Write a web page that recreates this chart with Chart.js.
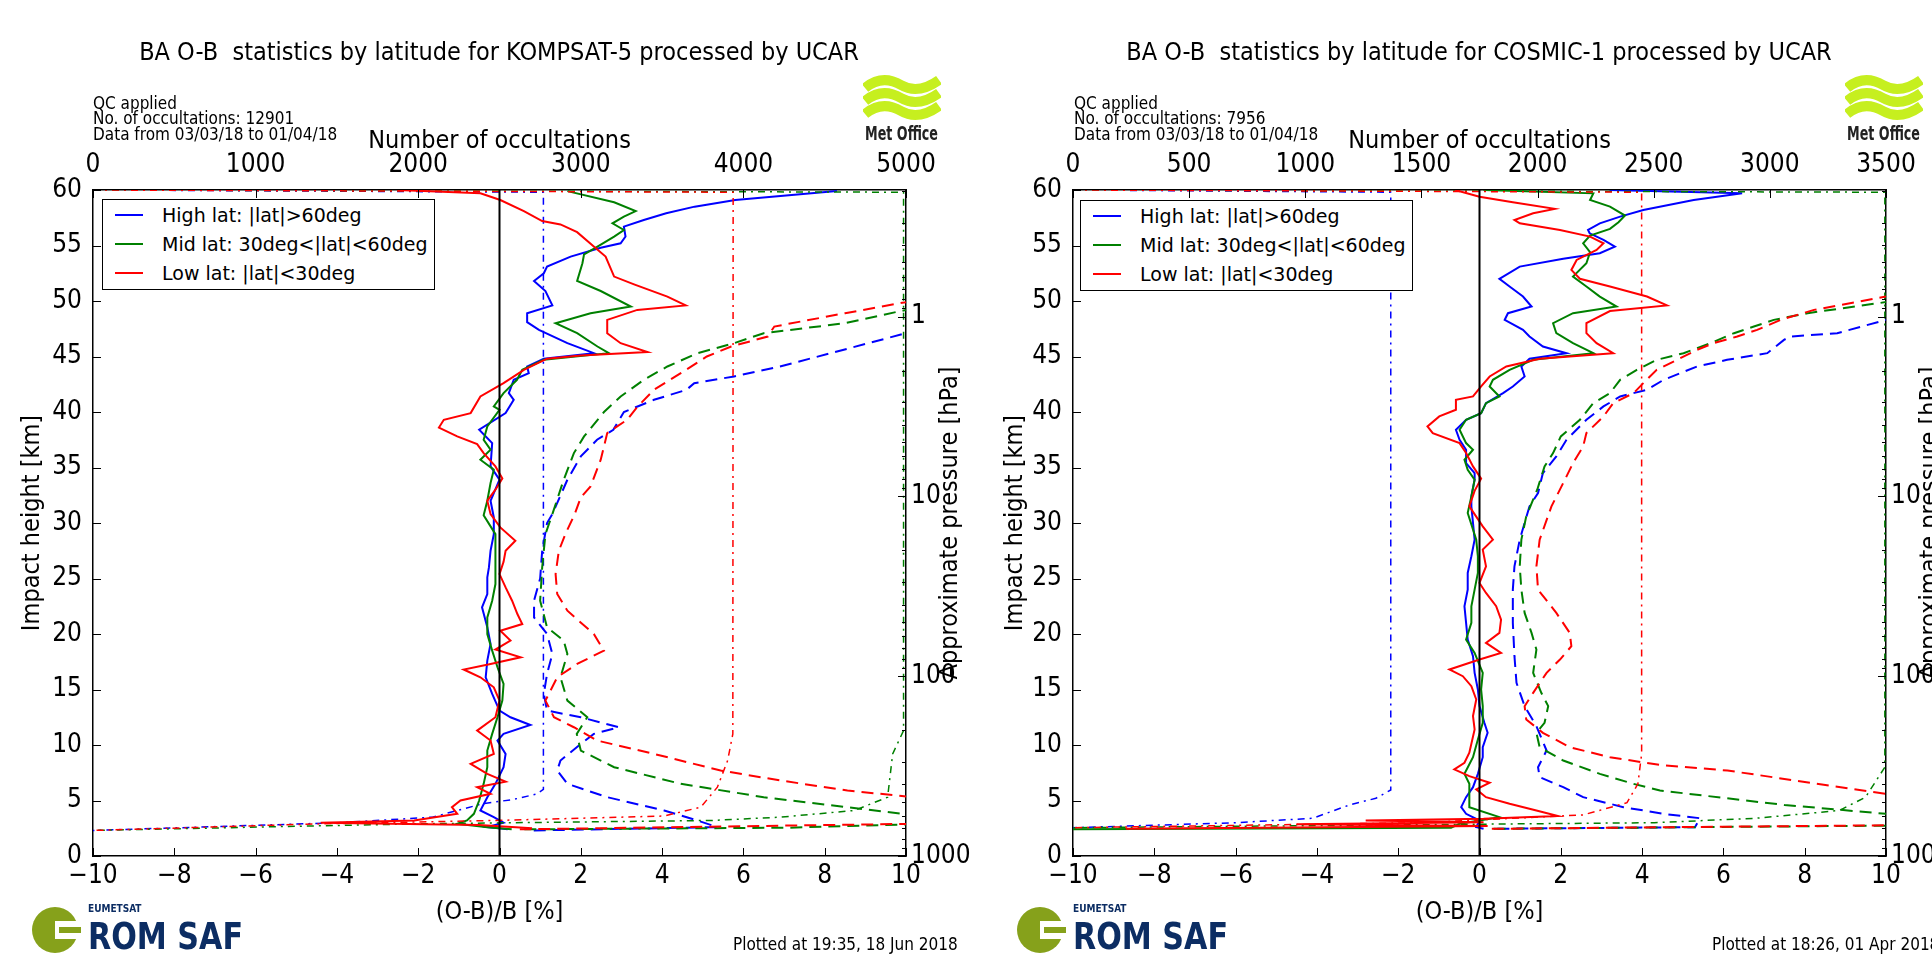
<!DOCTYPE html>
<html>
<head>
<meta charset="utf-8">
<script src="https://cdn.jsdelivr.net/npm/chart.js@4.4.1/dist/chart.umd.min.js"></script>
<style>
body { margin: 0; background: #fff; width: 1932px; height: 954px; overflow: hidden; position: relative;
  font-family: "DejaVu Sans Condensed", "DejaVu Sans", sans-serif; color: #000; }
canvas { position: absolute; top: 0; }
.title { position: absolute; top: 37px; width: 998px; text-align: center; font-size: 25px; white-space: pre; }
.qc { position: absolute; top: 96px; font-size: 17px; line-height: 15.4px; white-space: pre; }
.plotted { position: absolute; top: 934px; font-size: 17px; white-space: pre; }
.legend { position: absolute; width: 331px; height: 89px; border: 1.5px solid #000; background: #fff;
  font-family: "DejaVu Sans", sans-serif; font-size: 19px; }
.legend div { position: absolute; left: 0; height: 28px; line-height: 28px; white-space: pre; }
.legend span.swatch { position: absolute; left: 12px; top: 13px; width: 28px; height: 2px; }
.legend span.text { position: absolute; left: 59px; top: 0; }
svg { position: absolute; }
</style>
</head>
<body>
<canvas id="left" width="980" height="954" style="left:0"></canvas>
<canvas id="right" width="952" height="954" style="left:980px"></canvas>

<div class="title" style="left:0">BA O-B  statistics by latitude for KOMPSAT-5 processed by UCAR</div>
<div class="title" style="left:980px">BA O-B  statistics by latitude for COSMIC-1 processed by UCAR</div>
<div class="qc" id="qcLeft" style="left:93px"></div>
<div class="qc" id="qcRight" style="left:1074px"></div>
<div class="plotted" style="left:733px">Plotted at 19:35, 18 Jun 2018</div>
<div class="plotted" style="left:1712px">Plotted at 18:26, 01 Apr 2018</div>
<div class="legend" id="legLeft" style="left:102px;top:199px"></div>
<div class="legend" id="legRight" style="left:1080px;top:200px"></div>

<svg style="left:863px;top:74px" width="78" height="72" viewBox="0 0 78 72">
  <path d="M2 14 C 14 4, 26 4, 38 11 S 62 16, 76 6" stroke="#c6ef1f" stroke-width="10" fill="none"/>
  <path d="M2 27 C 14 17, 26 17, 38 24 S 62 29, 76 19" stroke="#c6ef1f" stroke-width="10" fill="none"/>
  <path d="M2 40 C 14 30, 26 30, 38 37 S 62 42, 76 32" stroke="#c6ef1f" stroke-width="10" fill="none"/>
  <text x="2" y="66" font-size="19" font-weight="bold" textLength="73" lengthAdjust="spacingAndGlyphs"
    font-family="DejaVu Sans Condensed, DejaVu Sans, sans-serif" fill="#222">Met Office</text>
</svg>
<svg style="left:1845px;top:74px" width="78" height="72" viewBox="0 0 78 72">
  <path d="M2 14 C 14 4, 26 4, 38 11 S 62 16, 76 6" stroke="#c6ef1f" stroke-width="10" fill="none"/>
  <path d="M2 27 C 14 17, 26 17, 38 24 S 62 29, 76 19" stroke="#c6ef1f" stroke-width="10" fill="none"/>
  <path d="M2 40 C 14 30, 26 30, 38 37 S 62 42, 76 32" stroke="#c6ef1f" stroke-width="10" fill="none"/>
  <text x="2" y="66" font-size="19" font-weight="bold" textLength="73" lengthAdjust="spacingAndGlyphs"
    font-family="DejaVu Sans Condensed, DejaVu Sans, sans-serif" fill="#222">Met Office</text>
</svg>
<svg style="left:28px;top:902px" width="225" height="52" viewBox="0 0 225 52">
  <circle cx="27" cy="28" r="23" fill="#86a11b"/>
  <rect x="27" y="19" width="26" height="18" fill="#fff"/>
  <rect x="31" y="25" width="22" height="6" fill="#86a11b"/>
  <text x="60" y="10" font-size="10" font-weight="bold" fill="#0c2d63"
    font-family="DejaVu Sans Condensed, DejaVu Sans, sans-serif">EUMETSAT</text>
  <text x="60" y="47" font-size="38" font-weight="bold" fill="#0c2d63" textLength="155" lengthAdjust="spacingAndGlyphs"
    font-family="DejaVu Sans Condensed, DejaVu Sans, sans-serif">ROM SAF</text>
</svg>
<svg style="left:1013px;top:902px" width="225" height="52" viewBox="0 0 225 52">
  <circle cx="27" cy="28" r="23" fill="#86a11b"/>
  <rect x="27" y="19" width="26" height="18" fill="#fff"/>
  <rect x="31" y="25" width="22" height="6" fill="#86a11b"/>
  <text x="60" y="10" font-size="10" font-weight="bold" fill="#0c2d63"
    font-family="DejaVu Sans Condensed, DejaVu Sans, sans-serif">EUMETSAT</text>
  <text x="60" y="47" font-size="38" font-weight="bold" fill="#0c2d63" textLength="155" lengthAdjust="spacingAndGlyphs"
    font-family="DejaVu Sans Condensed, DejaVu Sans, sans-serif">ROM SAF</text>
</svg>

<script>
// every profile is a list of [impact height (km), value]
// mean and std are (O-B)/B in %, counts are number of occultations (top axis)

// ---- KOMPSAT-5 ----
const k5HighMean = [[59.9,8.3],[59.1,5.8],[58.5,4.8],[57.9,4.1],[57.3,3.55],[56.7,3.06],[55.8,3.1],[55.2,2.98],[54.8,2.49],
  [54.0,1.75],[53.1,1.17],[52.5,1.09],[51.8,0.85],[50.9,1.13],[49.6,1.3],[48.9,0.68],[48.1,0.68],[47.4,0.97],[46.2,1.67],
  [45.3,2.32],[44.8,1.09],[44.1,0.68],[43.5,0.72],[42.9,0.35],[41.7,0.23],[41.1,0.35],[39.9,0.15],[38.4,-0.5],[37.2,-0.18],
  [35.1,-0.22],[33.9,0],[32.0,-0.22],[30.5,-0.14],[29,-0.14],[27.5,-0.22],[26,-0.26],[25.1,-0.3],[23.6,-0.3],[22.4,-0.43],
  [20.6,-0.3],[19.1,-0.22],[17.6,-0.3],[16.1,-0.34],[14.6,-0.18],[13.1,0],[12.5,0.27],[11.8,0.76],[11.0,0.1],[10.4,-0.05],
  [9.2,0.15],[8.0,0.1],[6.5,-0.1],[5.3,-0.3],[4.1,-0.47],[3.5,-0.14],[3.0,0.1],[2.6,-0.3],[2.4,0.2]];
const k5MidMean = [[59.9,1.67],[58.9,2.82],[58.1,3.35],[57.6,3.06],[57.0,2.78],[56.4,3.06],[55.8,2.82],[54.9,2.41],[54.2,2.08],
  [53.4,2.04],[51.8,1.91],[50.9,2.49],[49.5,3.23],[48.9,2.24],[48.0,1.38],[47.1,1.91],[45.9,2.41],[45.3,2.69],[44.7,1.09],
  [43.8,0.56],[42.9,0.43],[41.7,0.1],[40.5,-0.14],[40.2,0],[38.7,-0.3],[37.5,-0.39],[36.6,-0.22],[35.7,-0.47],[34.8,-0.14],
  [33.6,-0.22],[32,-0.3],[30.7,-0.39],[29,-0.1],[27.5,-0.1],[26,-0.1],[24.5,-0.1],[23,-0.18],[21.5,-0.3],[20,-0.3],
  [18.5,-0.18],[17,-0.05],[15.5,0.1],[14,0.07],[12.5,-0.05],[11,-0.18],[9.5,-0.3],[8,-0.3],[6.5,-0.39],[5,-0.5],
  [3.8,-0.63],[3.2,-0.8],[2.9,-1.04],[2.6,-0.3],[2.4,0.3]];
const k5LowMean = [[60,-2.5],[59.7,-0.47],[59.1,0.02],[58.1,0.6],[57.2,1.05],[56.9,1.5],[56.2,1.91],[54.9,2.32],[54.0,2.61],
  [52.2,2.82],[51.5,3.31],[50.4,4.13],[49.6,4.58],[49.2,3.39],[48.3,2.65],[47.1,2.65],[46.2,2.98],[45.4,3.64],[45.1,2.0],
  [44.8,1.17],[43.8,0.6],[42.6,0.1],[41.4,-0.47],[39.9,-0.71],[39.3,-1.37],[38.6,-1.49],[37.8,-1.04],[37.1,-0.55],
  [36.3,-0.39],[35.1,-0.1],[34.0,0.07],[33.0,-0.1],[32.0,-0.3],[30.8,-0.22],[29.6,0.02],[28.4,0.39],[27.5,0.15],[26.5,0.1],
  [25.4,0],[24.2,0.15],[23.0,0.31],[21.8,0.44],[20.9,0.56],[20.3,0.02],[19.4,0.27],[18.6,-0.1],[17.9,0.52],[17.3,-0.22],
  [16.8,-0.88],[16.1,-0.47],[15.2,-0.14],[14.0,0],[12.5,-0.1],[11.3,-0.55],[10.4,-0.22],[9.2,-0.14],[8.3,-0.71],[7.4,-0.3],
  [6.7,0.15],[6.2,-0.55],[5.6,-0.22],[5.0,-0.96],[4.4,-1.17],[3.8,-1.04],[3.2,-2.1],[3.0,-4.4],[2.8,-0.5],[2.5,0.8]];
const k5HighStd = [[60,22],[55,18],[47.1,10],[45.3,8.15],[44.1,6.9],[43.2,5.77],[42.6,4.79],[42.0,4.6],[41.1,3.8],[40.0,3.06],
  [38.4,2.8],[37.5,2.4],[36.0,2.0],[33.9,1.67],[30.8,1.3],[30,1.17],[27.5,1.05],[25,1.0],[23,0.85],[21.5,0.85],[20,1.17],
  [18.2,1.3],[16.4,1.17],[14.6,1.09],[13.1,1.17],[12.5,2.0],[11.6,2.94],[11.0,2.32],[9.8,1.9],[8.6,1.5],[7.7,1.42],
  [6.5,1.67],[5.3,2.65],[4.1,4.05],[3.2,4.87],[2.6,5.36],[2.3,0.8]];
const k5MidStd = [[60,22],[55,16],[49.2,10],[48.0,8.5],[47.1,6.5],[46.2,5.77],[45.3,4.87],[44.1,4.13],[42.9,3.55],[41.4,2.98],
  [40.0,2.57],[37.8,2.08],[36.3,1.83],[33.9,1.58],[30.8,1.3],[29,1.13],[26,1.05],[23,1.0],[20.6,1.17],[19.4,1.58],[18.2,1.67],
  [16.1,1.5],[14,1.67],[12.5,2.16],[11,1.9],[9.5,2.0],[8,2.82],[6.5,4.46],[5.3,6.5],[4.4,8.56],[3.8,9.9],[3.2,12],
  [2.9,10.5],[2.55,7.1],[2.4,0.5]];
const k5LowStd = [[60,22],[55,16],[49.9,10],[48.9,8.5],[47.7,6.76],[46.8,6.6],[45.9,5.7],[45.0,5.1],[43.5,4.46],[42.0,3.8],
  [40.5,3.4],[39.3,3.14],[38.1,2.65],[35.7,2.49],[33.3,2.24],[32.3,2.0],[30.8,1.85],[29,1.62],[27.5,1.46],[25.4,1.38],
  [23.6,1.42],[22.1,1.67],[20,2.32],[18.5,2.57],[17.3,1.91],[16.1,1.42],[14,1.13],[12.5,1.34],[11.6,1.83],[10.4,2.4],
  [9.2,3.8],[7.7,5.44],[6.8,6.92],[5.9,8.56],[5.4,9.9],[4,13],[2.9,10.2],[2.4,0.5]];
const k5HighCount = [[60,0],[59.8,2770],[6.0,2770],[5.6,2732],[5.1,2588],[4.7,2393],[3.5,2088],[3.0,1512],[2.3,0]];
const k5MidCount = [[60,0],[59.8,4985],[11.3,4985],[9.2,4918],[5.3,4887],[4.1,4682],[3.5,4230],[3.2,3800],[2.9,2000],[2.3,0]];
const k5LowCount = [[60,0],[59.8,3937],[11,3935],[8.6,3903],[6.2,3840],[4.4,3738],[3.6,3510],[3.2,2475],[2.9,1400],[2.3,0]];

// ---- COSMIC-1 ----
const c1HighMean = [[60,3.2],[59.7,6.46],[59.1,5.27],[58.2,4.03],[57.6,3.46],[57.0,2.96],[56.4,2.67],[56.1,2.71],[55.5,3.05],
  [54.9,3.33],[54.3,2.96],[53.8,2.06],[53.1,0.99],[52.0,0.49],[51.3,0.74],[50.4,1.07],[49.5,1.28],[48.9,0.7],[48.3,0.62],
  [47.4,1.07],[46.8,1.23],[45.9,1.56],[45.3,2.14],[44.8,1.23],[44.1,1.03],[43.2,1.11],[42.3,0.82],[41.7,0.58],[40.8,0.16],
  [39.9,0.04],[39.3,-0.33],[38.4,-0.58],[37.5,-0.49],[36.6,-0.33],[35.4,-0.33],[34.5,-0.12],[33.9,-0.12],[32.4,-0.2],
  [31.5,-0.2],[28.5,-0.12],[27,-0.2],[25.5,-0.29],[24,-0.29],[22.5,-0.37],[21,-0.33],[19.5,-0.29],[18,-0.16],[16.5,-0.12],
  [15,-0.04],[13.5,0],[12,0.12],[11.1,0.2],[9.8,0.08],[8.9,0.08],[7.4,-0.04],[6.2,-0.16],[5.3,-0.33],[4.4,-0.45],
  [3.8,-0.33],[3.2,0],[2.6,-0.08],[2.45,0.1]];
const c1MidMean = [[60,0.1],[59.7,2.8],[59.1,2.72],[58.5,3.21],[57.7,3.58],[57.1,3.42],[56.5,3.21],[55.9,2.72],[55.2,2.55],
  [54.4,2.72],[53.4,2.63],[52.2,2.3],[51.3,2.63],[50.4,2.96],[49.5,3.37],[48.9,2.3],[48.0,1.81],[47.1,1.89],[46.2,2.3],
  [45.3,2.8],[44.7,1.32],[43.8,0.74],[42.9,0.33],[42.3,0.25],[41.4,0.49],[40.8,0.16],[39.9,0.04],[39.3,-0.33],[38.4,-0.49],
  [37.2,-0.33],[36.6,-0.16],[35.7,-0.37],[34.8,-0.29],[33.9,-0.12],[32.4,-0.2],[30.9,-0.29],[28.5,-0.08],[27,-0.04],
  [25.5,-0.04],[24,-0.12],[22.5,-0.2],[21,-0.2],[19.5,-0.33],[18.3,-0.12],[16.5,0.08],[15,0.04],[13.5,0.08],[12,0.08],
  [10.5,-0.04],[8.9,-0.16],[7.4,-0.37],[6.5,-0.25],[5.3,-0.25],[4.4,-0.25],[3.5,0.49],[2.9,-0.49],[2.55,-0.7],[2.4,-11]];
const c1LowMean = [[60,-0.6],[59.4,0],[58.9,0.82],[58.3,1.85],[57.9,1.32],[57.3,0.86],[57.0,0.99],[56.4,1.98],[55.8,2.72],
  [55.2,3.05],[54.6,2.88],[53.7,2.39],[52.8,2.26],[52.0,2.47],[51.3,3.21],[50.4,4.12],[49.6,4.61],[49.1,3.21],[48.0,2.63],
  [47.1,2.63],[46.2,2.88],[45.3,3.29],[44.8,1.48],[44.1,0.66],[43.2,0.25],[42.3,0.04],[41.4,-0.16],[41.1,-0.58],[40.2,-0.58],
  [39.6,-0.99],[38.7,-1.28],[38.1,-1.15],[37.2,-0.49],[36.3,-0.33],[35.1,-0.16],[34.0,0.04],[32.9,-0.12],[31.5,-0.25],
  [29.7,0.08],[28.5,0.33],[27.6,0.08],[26.1,0.16],[24.6,0],[23.7,0.16],[22.5,0.41],[21.3,0.53],[20.1,0.49],[19.2,0.16],
  [18.3,0.53],[17.7,0],[16.8,-0.74],[16.2,-0.41],[15.3,-0.2],[14.1,-0.08],[12.6,-0.16],[11.4,-0.12],[9.3,-0.25],[8.4,-0.37],
  [7.8,-0.62],[7.2,-0.25],[6.6,0.25],[6.0,-0.08],[5.3,0.16],[4.7,0.74],[4.1,1.4],[3.6,1.93],[3.35,0.1],[3.2,-2.8],
  [3.05,0.1],[2.85,-4.5],[2.7,0.2],[2.45,-8.7]];
const c1HighStd = [[60,22],[55,16],[48.3,10],[47.1,8.8],[46.8,7.65],[46.5,7.49],[45.3,7.08],[44.7,6.09],[44.1,5.35],[43.5,4.94],
  [42.9,4.53],[42.0,4.12],[41.4,3.46],[40.5,3.05],[39.3,2.63],[37.5,2.14],[36.0,1.89],[34.5,1.56],[32.7,1.44],[31.5,1.23],
  [28.5,0.99],[26.1,0.86],[24,0.82],[21,0.82],[18,0.86],[15.6,0.91],[13.5,1.11],[11.7,1.4],[9.5,1.65],[8.0,1.44],[7.1,1.48],
  [6.2,2.06],[5.3,2.55],[4.4,3.54],[3.8,4.53],[3.4,5.43],[2.6,5.3],[2.45,0.3]];
const c1MidStd = [[60,22],[55,16],[49.9,10],[48.9,8.07],[48.3,7.24],[47.7,6.75],[47.1,6.26],[46.2,5.68],[45.3,5.02],[44.7,4.36],
  [43.8,3.87],[42.9,3.46],[41.7,3.21],[40.8,2.8],[39.3,2.47],[37.8,2.0],[36.3,1.81],[35.1,1.6],[33,1.42],[30.6,1.15],
  [28.5,1.03],[26.1,0.99],[24,1.03],[21.9,1.11],[20.1,1.28],[18.6,1.4],[16.5,1.32],[14.7,1.52],[13.5,1.69],[12,1.6],
  [11.1,1.4],[9.8,1.48],[8.6,2.06],[7.4,2.96],[6.5,3.79],[5.9,4.44],[4.6,7.5],[3.8,10],[3.2,12],[2.75,10.5],[2.45,0.3]];
const c1LowStd = [[60,22],[55,16],[50.4,10],[49.2,8.23],[48.3,7.41],[47.4,6.83],[46.8,6.34],[46.2,5.76],[45.6,5.35],[44.7,4.86],
  [43.8,4.36],[42.6,4.03],[41.7,3.79],[40.8,3.29],[39.6,3.05],[38.1,2.63],[36.9,2.55],[35.4,2.3],[33.9,2.1],[31.5,1.77],
  [28.5,1.48],[26.1,1.4],[24,1.44],[21.9,1.89],[20.1,2.22],[18.9,2.26],[17.7,1.98],[16.5,1.65],[14.7,1.32],[13.5,1.11],
  [12.3,1.15],[11.1,1.56],[9.8,2.22],[8.9,3.21],[8.2,4.44],[7.7,6.1],[5.6,10],[4,14],[2.8,11],[2.45,0.3]];
const c1HighCount = [[60,0],[59.8,1368],[5.95,1368],[5.2,1304],[4.6,1190],[3.4,1032],[3.0,700],[2.55,0]];
const c1MidCount = [[60,0],[59.8,3495],[8,3495],[5.3,3412],[4.1,3299],[3.4,2940],[3.0,2503],[2.55,0]];
const c1LowCount = [[60,0],[59.8,2448],[9.2,2448],[6.5,2432],[4.8,2385],[3.7,2196],[3.0,1500],[2.55,0]];

const zeroLine = [[0,0],[60,0]];

const latLabels = ['High lat: |lat|>60deg', 'Mid lat: 30deg<|lat|<60deg', 'Low lat: |lat|<30deg'];
const latColors = ['#0000ff', '#008000', '#ff0000'];

const ratioTicks = [-10, -8, -6, -4, -2, 0, 2, 4, 6, 8, 10];
const heightTicks = [0, 5, 10, 15, 20, 25, 30, 35, 40, 45, 50, 55, 60];
const k5CountTicks = [0, 1000, 2000, 3000, 4000, 5000];
const c1CountTicks = [0, 500, 1000, 1500, 2000, 2500, 3000, 3500];
const pressureMajor = [1000, 100, 10, 1];
const pressureMinorSteps = [2, 3, 4, 5, 6, 7, 8, 9];

const qcLeft = ['QC applied', 'No. of occultations: 12901', 'Data from 03/03/18 to 01/04/18'];
const qcRight = ['QC applied', 'No. of occultations: 7956', 'Data from 03/03/18 to 01/04/18'];

const COND = '"DejaVu Sans Condensed", "DejaVu Sans", sans-serif';
const KM_PER_DECADE = 16.2;
const TICK_FONT = {size: 26, family: COND};
const LABEL_FONT = {size: 25, family: COND};

function pressureToHeight(p) {
    return KM_PER_DECADE * Math.log10(1000 / p);
}

function pressureTicks() {
    let list = pressureMajor.map(p => ({p: p, minor: false}));
    [0.1, 1, 10, 100].forEach(d => {
        pressureMinorSteps.forEach(m => list.push({p: m * d, minor: true}));
    });
    return list
        .map(t => ({value: pressureToHeight(t.p), p: t.p, minor: t.minor}))
        .filter(t => t.value >= 0 && t.value <= 60.01);
}

function toXY(pairs) {
    return pairs.map(p => ({x: p[1], y: p[0]}));
}

function minusFmt(v) {
    return v < 0 ? '\u2212' + Math.abs(v) : String(v);
}

// matplotlib style ticks pointing into the plot
const inwardTicks = {
    id: 'inwardTicks',
    afterDraw(chart) {
        const ctx = chart.ctx;
        const a = chart.chartArea;
        ctx.save();
        ctx.strokeStyle = '#000';
        ctx.lineWidth = 1;
        ctx.beginPath();
        for (const id of ['x', 'x2', 'y', 'y2']) {
            const s = chart.scales[id];
            s.ticks.forEach(t => {
                const len = t.minor ? 4 : 8;
                const px = Math.round(s.getPixelForValue(t.value)) + 0.5;
                if (id === 'x') { ctx.moveTo(px, a.bottom); ctx.lineTo(px, a.bottom - len); }
                if (id === 'x2') { ctx.moveTo(px, a.top); ctx.lineTo(px, a.top + len); }
                if (id === 'y') { ctx.moveTo(a.left, px); ctx.lineTo(a.left + len, px); }
                if (id === 'y2') { ctx.moveTo(a.right, px); ctx.lineTo(a.right - len, px); }
            });
        }
        ctx.stroke();
        ctx.restore();
    }
};

// right axis label reads bottom to top like the left one
const rightTitle = {
    id: 'rightTitle',
    afterDraw(chart, args, opts) {
        const ctx = chart.ctx;
        const a = chart.chartArea;
        ctx.save();
        ctx.font = LABEL_FONT.size + 'px ' + COND;
        ctx.fillStyle = '#000';
        ctx.textAlign = 'center';
        ctx.textBaseline = 'middle';
        ctx.translate(opts.x, (a.top + a.bottom) / 2);
        ctx.rotate(-Math.PI / 2);
        ctx.fillText(opts.text, 0, 0);
        ctx.restore();
    }
};

function buildDatasets(bands) {
    let ds = [];
    bands.forEach(b => {
        ds.push({data: toXY(b.mean), borderColor: b.color, borderWidth: 2, xAxisID: 'x'});
        ds.push({data: toXY(b.std), borderColor: b.color, borderWidth: 2, borderDash: [12, 7], xAxisID: 'x'});
        ds.push({data: toXY(b.count), borderColor: b.color, borderWidth: 1.5, borderDash: [7, 5, 2, 5], xAxisID: 'x2'});
    });
    ds.push({data: toXY(zeroLine), borderColor: '#000', borderWidth: 2, xAxisID: 'x'});
    // first plotted ends up underneath
    return ds.map((d, i) => Object.assign({
        yAxisID: 'y', showLine: true, pointRadius: 0, fill: false, tension: 0,
        borderCapStyle: 'butt', order: ds.length - i
    }, d));
}

function axisBase(pos, min, max, ticks, fmt) {
    return {
        type: 'linear', position: pos, min: min, max: max,
        afterBuildTicks: s => { s.ticks = ticks.map(v => ({value: v})); },
        ticks: {autoSkip: false, maxRotation: 0, color: '#000', font: TICK_FONT, padding: 6, callback: fmt},
        grid: {display: false, drawTicks: false},
        border: {display: true, color: '#000', width: 1.5}
    };
}

function createPanel(canvasId, canvasWidth, countMax, countTicks, bands, leftTitlePad) {
    const ctx = document.getElementById(canvasId);
    const x = axisBase('bottom', -10, 10, ratioTicks, minusFmt);
    x.ticks.padding = 5;
    x.title = {display: true, text: '(O-B)/B [%]', color: '#000', font: LABEL_FONT, padding: {top: 0, bottom: 27}};
    x.afterFit = s => { s.height = 954 - 856; };

    const x2 = axisBase('top', 0, countMax, countTicks, v => String(v));
    x2.axis = 'x';
    x2.ticks.padding = 9;
    x2.title = {display: true, text: 'Number of occultations', color: '#000', font: LABEL_FONT, padding: {top: 126, bottom: 0}};
    x2.afterFit = s => { s.height = 190; };

    const y = axisBase('left', 0, 60, heightTicks, v => String(v));
    y.ticks.padding = 11;
    y.title = {display: true, text: 'Impact height [km]', color: '#000', font: LABEL_FONT, padding: {top: leftTitlePad, bottom: 0}};
    y.afterFit = s => { s.width = 93; };

    const y2 = axisBase('right', 0, 60, [], null);
    y2.axis = 'y';
    y2.afterBuildTicks = s => { s.ticks = pressureTicks(); };
    y2.ticks.padding = 5;
    y2.ticks.callback = (v, i, ticks) => ticks[i].minor ? '' : String(ticks[i].p);
    y2.afterFit = s => { s.width = canvasWidth - 906; };

    return new Chart(ctx, {
        type: 'scatter',
        data: {datasets: buildDatasets(bands)},
        options: {
            responsive: false,
            animation: false,
            devicePixelRatio: 1,
            layout: {padding: 0},
            plugins: {
                legend: {display: false},
                tooltip: {enabled: false},
                rightTitle: {text: 'Approximate pressure [hPa]', x: 950}
            },
            scales: {x: x, x2: x2, y: y, y2: y2}
        },
        plugins: [inwardTicks, rightTitle]
    });
}

function fillLegend(id) {
    const box = document.getElementById(id);
    latLabels.forEach((label, i) => {
        const row = document.createElement('div');
        row.style.top = (1 + i * 29) + 'px';
        row.style.width = '100%';
        const sw = document.createElement('span');
        sw.className = 'swatch';
        sw.style.background = latColors[i];
        const tx = document.createElement('span');
        tx.className = 'text';
        tx.textContent = label;
        row.appendChild(sw);
        row.appendChild(tx);
        box.appendChild(row);
    });
}

function bandsOf(means, stds, counts) {
    return latColors.map((c, i) => ({color: c, mean: means[i], std: stds[i], count: counts[i]}));
}

document.getElementById('qcLeft').textContent = qcLeft.join('\n');
document.getElementById('qcRight').textContent = qcRight.join('\n');
fillLegend('legLeft');
fillLegend('legRight');

createPanel('left', 980, 5000, k5CountTicks,
    bandsOf([k5HighMean, k5MidMean, k5LowMean], [k5HighStd, k5MidStd, k5LowStd], [k5HighCount, k5MidCount, k5LowCount]), 17);
createPanel('right', 952, 3500, c1CountTicks,
    bandsOf([c1HighMean, c1MidMean, c1LowMean], [c1HighStd, c1MidStd, c1LowStd], [c1HighCount, c1MidCount, c1LowCount]), 20);
</script>
</body>
</html>
